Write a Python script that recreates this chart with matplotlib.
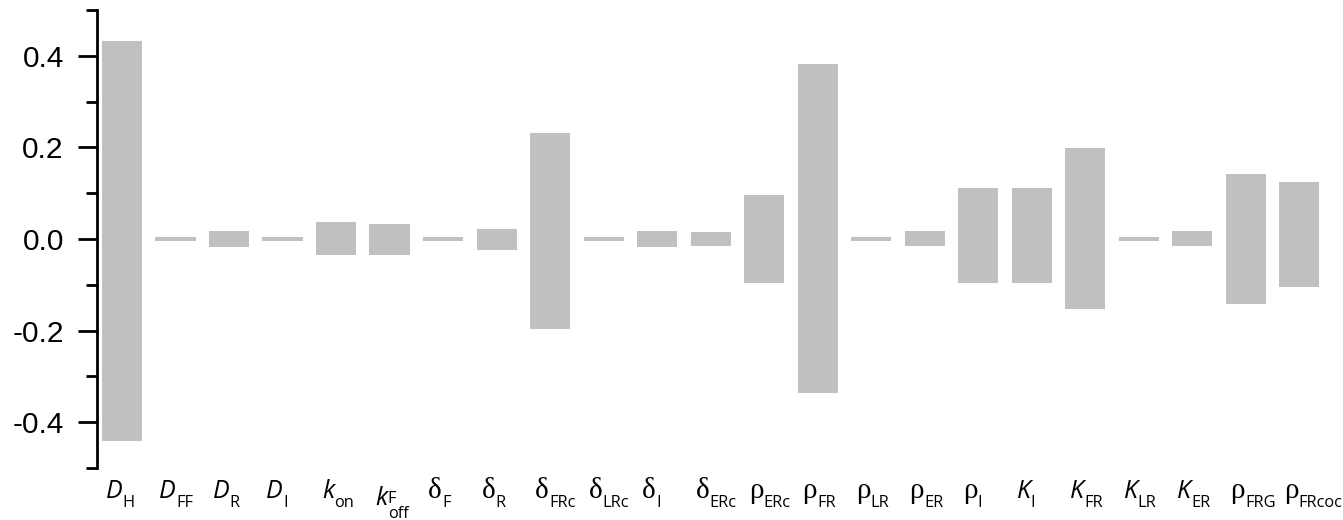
import matplotlib
matplotlib.use("Agg")
import matplotlib.pyplot as plt
from matplotlib.ticker import MultipleLocator, FixedLocator
import numpy as np

# Parameter names: main symbol, subscript, superscript
symbols = ["D", "D", "D", "D", "k", "k", "δ", "δ", "δ", "δ", "δ", "δ",
           "ρ", "ρ", "ρ", "ρ", "ρ", "K", "K", "K", "K", "ρ", "ρ"]
subscripts = ["H", "FF", "R", "I", "on", "off", "F", "R", "FRc", "LRc", "I", "ERc",
              "ERc", "FR", "LR", "ER", "I", "I", "FR", "LR", "ER", "FRG", "FRcoc"]
superscripts = ["", "", "", "", "", "F", "", "", "", "", "", "",
                "", "", "", "", "", "", "", "", "", "", ""]

# Sensitivity range (upper and lower end) for every parameter
upper = [0.432, 0.004, 0.017, 0.004, 0.037, 0.033, 0.004, 0.022, 0.231, 0.004, 0.017, 0.016,
         0.096, 0.382, 0.004, 0.017, 0.111, 0.111, 0.198, 0.004, 0.017, 0.142, 0.125]
lower = [-0.440, -0.004, -0.017, -0.004, -0.036, -0.036, -0.004, -0.023, -0.196, -0.004, -0.017, -0.016,
         -0.097, -0.336, -0.004, -0.016, -0.097, -0.097, -0.152, -0.004, -0.016, -0.142, -0.104]

yticks = [-0.4, -0.2, 0.0, 0.2, 0.4]

W, H, DPI = 1343, 520, 100
fig = plt.figure(figsize=(W / DPI, H / DPI), dpi=DPI)
ax_left, ax_right, ax_top, ax_bot = 96.7, 1326.0, 10.0, 468.0
ax = fig.add_axes([ax_left / W, 1 - ax_bot / H, (ax_right - ax_left) / W, (ax_bot - ax_top) / H])

x = np.arange(1, len(symbols) + 1)
up = np.array(upper)
lo = np.array(lower)
ax.bar(x, up - lo, bottom=lo, width=0.75, color="#c0c0c0", edgecolor="none")

ax.set_xlim(0.527, 23.5)
ax.set_ylim(-0.5, 0.5)
for s in ["top", "right", "bottom"]:
    ax.spines[s].set_visible(False)
ax.spines["left"].set_linewidth(2.0)
ax.set_xticks([])
ax.yaxis.set_major_locator(FixedLocator(yticks))
ax.yaxis.set_minor_locator(MultipleLocator(0.1))
ax.set_yticklabels([f"{v:.1f}" for v in yticks], family="Liberation Sans", fontsize=21.5)
ax.tick_params(axis="y", which="major", length=13.7, width=2.0, pad=10)
ax.tick_params(axis="y", which="minor", length=7.8, width=2.0)

# Composite parameter labels below the axis
fig.canvas.draw()
renderer = fig.canvas.get_renderer()
px2pt = 72.0 / DPI

main_kw_latin = dict(family="Open Sans", style="italic", fontsize=18)
main_kw_greek = dict(family="Liberation Serif", fontsize=21)
sub_kw = dict(family="Open Sans", fontsize=11.8)


def width_px(s, **kw):
    t = fig.text(0, 0, s, **kw)
    w = t.get_window_extent(renderer).width
    t.remove()
    return w


def place(s, xi, dx, dy, **kw):
    ax.annotate(s, xy=(xi, 0), xycoords=("data", "axes fraction"),
                xytext=(dx * px2pt, dy * px2pt), textcoords="offset points",
                ha="left", va="baseline", annotation_clip=False, **kw)


for xi, sym, sub, sup in zip(x, symbols, subscripts, superscripts):
    mkw = main_kw_greek if sym in "δρ" else main_kw_latin
    wm = width_px(sym, **mkw)
    left = -wm / 2 - 8
    if sup:
        # stacked superscript over subscript
        place(sym, xi, left, -37, **mkw)
        place(sup + "\n" + sub, xi, left + wm, -50, linespacing=0.9, **sub_kw)
    else:
        place(sym, xi, left, -30, **mkw)
        place(sub, xi, left + wm, -39, **sub_kw)

fig.savefig("out.png", dpi=DPI)
